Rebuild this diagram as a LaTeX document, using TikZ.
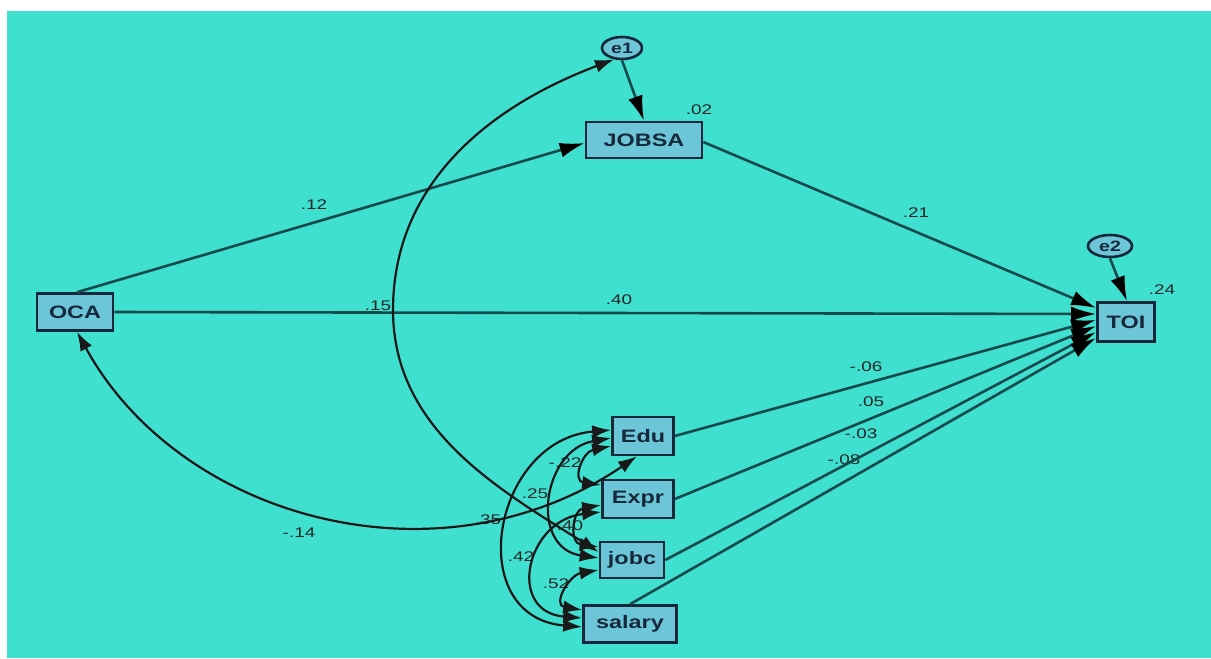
\documentclass[tikz,border=0pt]{standalone}
\usepackage{fontspec}
\newfontfamily\amos[FakeStretch=1.35]{Liberation Sans}
\newfontfamily\amosb[FakeStretch=1.3]{Liberation Sans Bold}
\usetikzlibrary{arrows.meta,calc,shapes.geometric}
\definecolor{bg}{HTML}{40E0D0}
\definecolor{boxfill}{HTML}{6CC6D8}
\definecolor{edgec}{HTML}{174A4C}
\definecolor{ink}{HTML}{16283A}
\begin{document}
\begin{tikzpicture}[x=1pt,y=-1pt,
  var/.style={draw=ink, line width=2.6pt, fill=boxfill, inner sep=0pt, font=\amosb\fontsize{18}{18}\selectfont, text=ink},
  err/.style={ellipse, draw=ink, line width=2.6pt, fill=boxfill, inner sep=0pt, minimum width=40pt, minimum height=22pt, font=\amosb\fontsize{15}{15}\selectfont, text=ink},
  reg/.style={draw=edgec, line width=2.6pt, -{Latex[length=25pt,width=15pt,color=black]}},
  cov/.style={draw=black!90, line width=2.2pt, {Latex[length=19pt,width=13pt]}-{Latex[length=19pt,width=13pt]}},
  lab/.style={font=\amos\fontsize{14}{14}\selectfont, text=black!85, inner sep=0pt}
]
\useasboundingbox (0,0) rectangle (1211,659);
\fill[white] (0,0) rectangle (1211,659);
\fill[bg] (7,11) rectangle (1211,658);

% labels (drawn first, lines pass over them)
\node[lab] (l02) at (699,110) {.02};
\node[lab] (l24) at (1162,290) {.24};
\node[lab] (l12) at (314,205) {.12};
\node[lab] (l21) at (916,213) {.21};
\node[lab] (l15) at (378,306) {.15};
\node[lab] (l40a) at (619,300) {.40};
\node[lab] (l06) at (866,367) {-.06};
\node[lab] (l05) at (871,402) {.05};
\node[lab] (l03) at (861,434) {-.03};
\node[lab] (l08) at (844,460) {-.08};
\node[lab] (l14) at (299,533) {-.14};
\node[lab] (l35) at (488,520) {.35};
\node[lab] (l22) at (565,463) {-.22};
\node[lab] (l25) at (535,494) {.25};
\node[lab] (l40b) at (570,526) {.40};
\node[lab] (l42) at (521,557) {.42};
\node[lab] (l52) at (556,584) {.52};

% nodes
\node[var, minimum width=76pt, minimum height=37pt] (OCA) at (75,312) {OCA};
\node[var, minimum width=116pt, minimum height=36pt] (JOBSA) at (644,140) {JOBSA};
\node[var, minimum width=57pt, minimum height=39pt] (TOI) at (1126,322) {TOI};
\node[var, minimum width=61pt, minimum height=38pt] (Edu) at (643,436) {Edu};
\node[var, minimum width=71pt, minimum height=38pt] (Expr) at (638,499) {Expr};
\node[var, minimum width=64pt, minimum height=36pt] (jobc) at (632,560) {jobc};
\node[var, minimum width=93pt, minimum height=37pt] (salary) at (630,624) {salary};
\node[err] (e1) at (622,48) {e1};
\node[err, minimum width=44pt] (e2) at (1110,246) {e2};

% regression paths
\draw[reg] (e1.south) -- (JOBSA.north);
\draw[reg] (e2.south) -- ($(TOI.north)+(1,0)$);
\draw[reg] ($(OCA.north)+(2,0)$) -- ($(JOBSA.west)+(0,3)$);
\draw[reg] ($(JOBSA.east)+(0,2)$) -- ($(TOI.west)+(0,-14)$);
\draw[reg] (OCA.east) -- ($(TOI.west)+(0,-8)$);
\draw[reg] (Edu.east) -- ($(TOI.west)+(0,-2)$);
\draw[reg] (Expr.east) -- ($(TOI.west)+(0,4)$);
\draw[reg] (jobc.east) -- ($(TOI.west)+(0,10)$);
\draw[reg] (salary.north) -- ($(TOI.west)+(0,16)$);

% covariances
\coordinate (m1) at (393,310);
\draw[cov] (e1.235) .. controls (480,110) and (393,190) .. (m1)
  .. controls (393,430) and (500,490) .. ($(jobc.west)+(0,-8)$);
\draw[cov] ($(OCA.south)+(2,0)$) .. controls (180,520) and (440,590) .. ($(Edu.south)+(-6,0)$);
\draw[cov] ($(Edu.west)+(0,-6)$) .. controls (492,440) and (462,617) .. ($(salary.west)+(0,3)$);
\draw[cov] ($(Edu.west)+(0,2)$) .. controls (542,450) and (529,548) .. ($(jobc.west)+(0,-2)$);
\draw[cov] ($(Edu.west)+(0,10)$) .. controls (582,452) and (572,481) .. ($(Expr.west)+(0,-14)$);
\draw[cov] ($(Expr.west)+(0,6)$) .. controls (572,510) and (569,543) .. ($(jobc.west)+(0,-13)$);
\draw[cov] ($(Expr.west)+(0,13)$) .. controls (526,520) and (506,612) .. ($(salary.west)+(0,-6)$);
\draw[cov] ($(jobc.west)+(0,10)$) .. controls (569,575) and (552,605) .. ($(salary.west)+(0,-14)$);
\end{tikzpicture}
\end{document}
